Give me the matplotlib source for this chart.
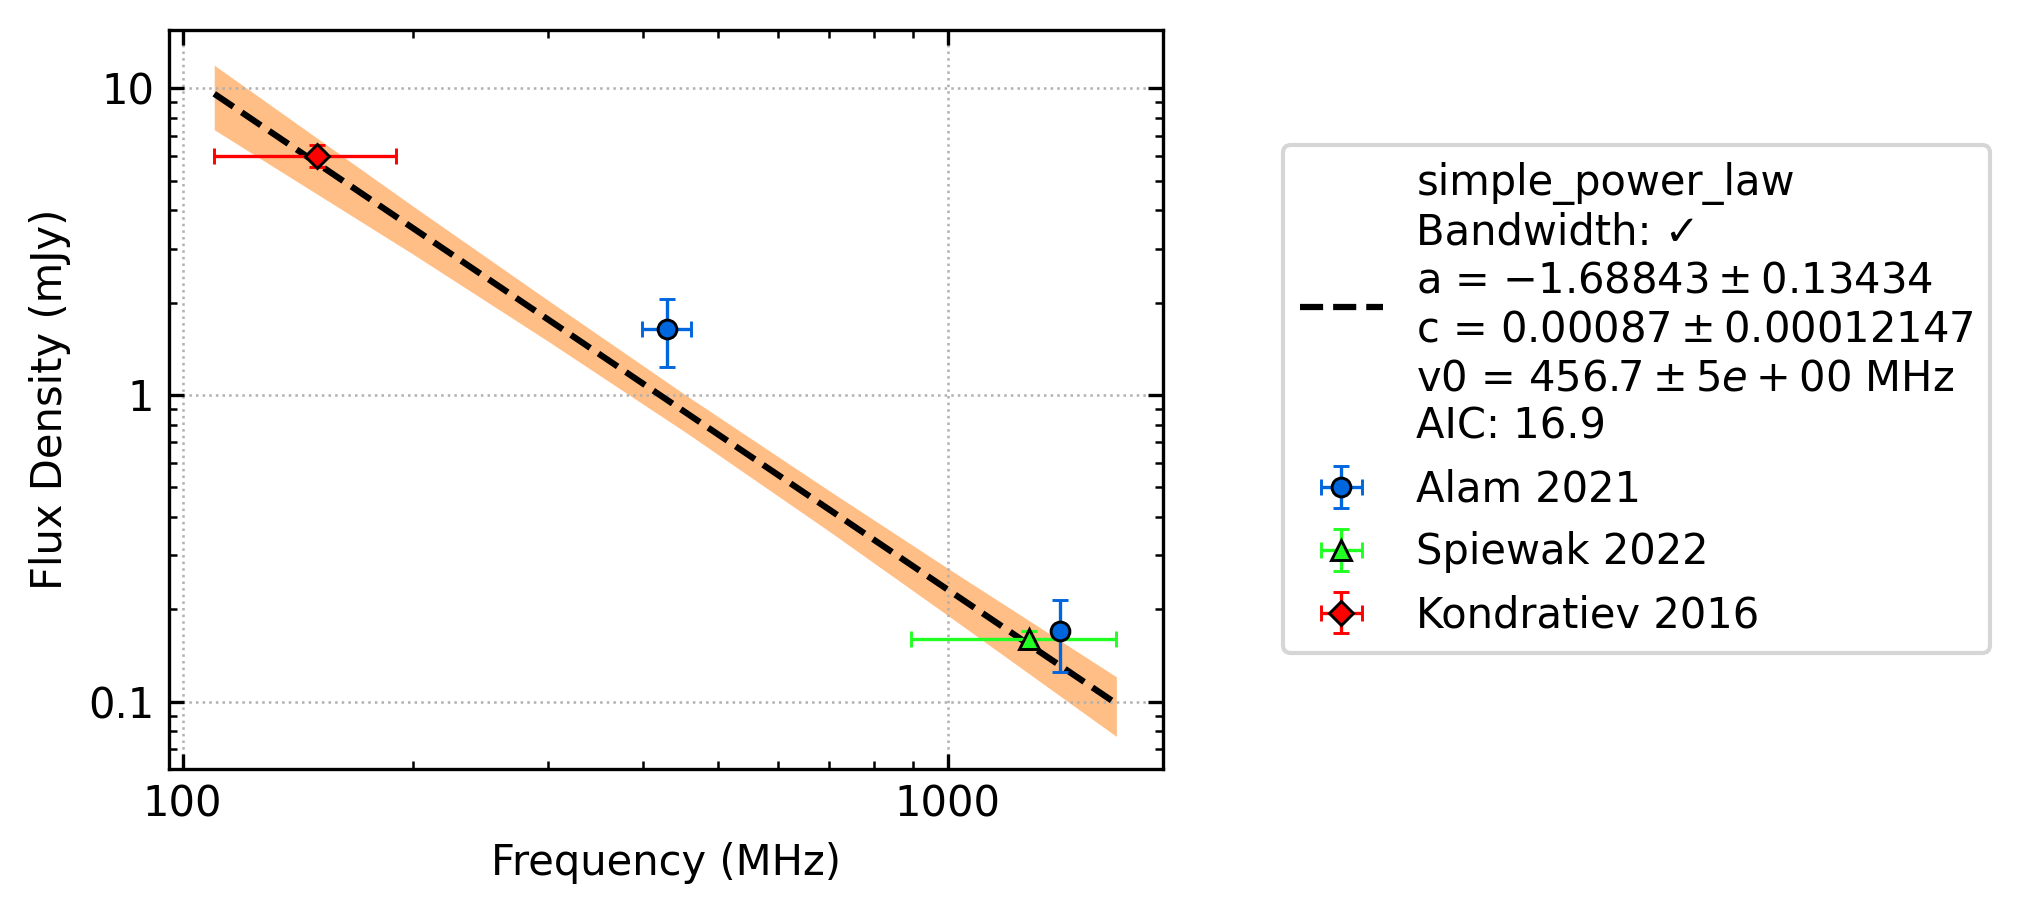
import matplotlib.pyplot as plt
from matplotlib.ticker import FuncFormatter
import numpy as np

# fitted model line (log-log straight)
fit_freq = [110, 1660]
fit_flux = [9.6, 0.0985]

# uncertainty band edges
band_freq = [110, 200, 300, 456.7, 700, 1000, 1660]
band_lo = [7.33, 2.88, 1.50, 0.749, 0.359, 0.191, 0.0770]
band_hi = [11.9, 4.13, 2.04, 0.991, 0.487, 0.272, 0.1205]

# measurements
alam_freq = [430, 1400]
alam_flux = [1.64, 0.17]
alam_ferr = [32, 8]
alam_serr = [0.41, 0.045]

spiewak_freq = [1277]
spiewak_flux = [0.16]
spiewak_ferr = [383]
spiewak_serr = [0.01]

kond_freq = [150]
kond_flux = [6.04]
kond_ferr = [40]
kond_serr = [0.5]

fit_label = ("simple_power_law\n"
             "Bandwidth: \u2713\n"
             "a = $-1.68843 \\pm 0.13434$\n"
             "c = $0.00087 \\pm 0.00012147$\n"
             "v0 = $456.7 \\pm 5e+00$ MHz\n"
             "AIC: 16.9")

plt.rcParams['font.size'] = 10

fig = plt.figure(figsize=(2018/300, 914/300), dpi=300)
ax = fig.add_axes([169/2018, 1-769/914, 994/2018, 739/914])

ax.fill_between(band_freq, band_lo, band_hi, color='C1', alpha=0.5, lw=0)
ax.plot(fit_freq, fit_flux, 'k--', lw=1.5, label=fit_label)

ax.errorbar(alam_freq, alam_flux, xerr=alam_ferr, yerr=alam_serr, fmt='o',
            color='#0066dd', mec='black', mew=0.7, ms=4.5, elinewidth=0.8,
            capsize=2, capthick=0.8, label='Alam 2021')
ax.errorbar(spiewak_freq, spiewak_flux, xerr=spiewak_ferr, yerr=spiewak_serr, fmt='^',
            color='#22ff22', mec='black', mew=0.7, ms=5, elinewidth=0.8,
            capsize=2, capthick=0.8, label='Spiewak 2022')
ax.errorbar(kond_freq, kond_flux, xerr=kond_ferr, yerr=kond_serr, fmt='D',
            color='red', mec='black', mew=0.7, ms=4, elinewidth=0.8,
            capsize=2, capthick=0.8, label='Kondratiev 2016')

ax.set_xscale('log')
ax.set_yscale('log')
ax.set_xlim(96, 1910)
ax.set_ylim(0.0603, 15.5)

fmt = FuncFormatter(lambda v, p: '{:g}'.format(v))
ax.xaxis.set_major_formatter(fmt)
ax.yaxis.set_major_formatter(fmt)
ax.tick_params(which='both', direction='in', top=True, right=True)
ax.grid(True, which='major', ls=':', color='#b0b0b0', lw=0.6)

ax.set_xlabel('Frequency (MHz)')
ax.set_ylabel('Flux Density (mJy)')

ax.legend(loc='upper left', bbox_to_anchor=(1283/2018, 1-145/914),
          bbox_transform=fig.transFigure, borderaxespad=0)

fig.savefig('out.png', dpi=300)
